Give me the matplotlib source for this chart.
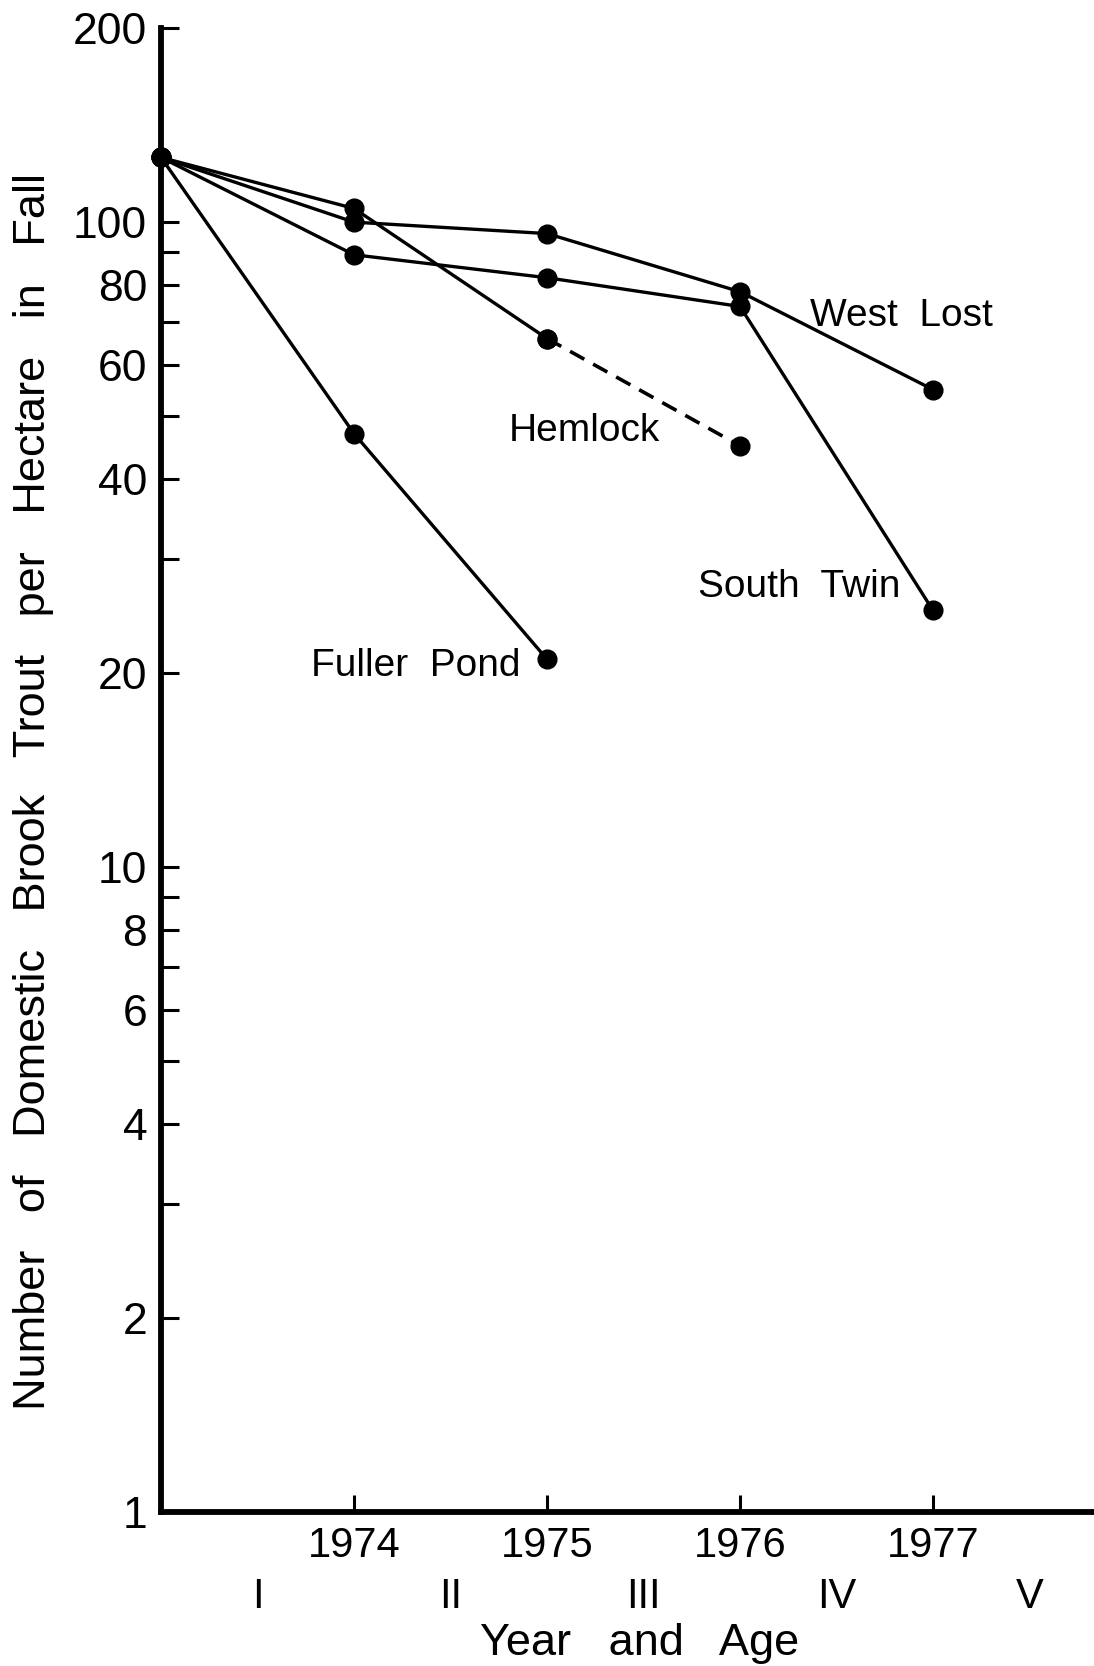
import matplotlib
matplotlib.use("Agg")
import matplotlib.pyplot as plt
from matplotlib.ticker import FixedLocator, FixedFormatter, NullFormatter

plt.rcParams['font.family'] = ['Liberation Sans', 'DejaVu Sans']

# data (fish per hectare each fall)
years = [1973, 1974, 1975, 1976, 1977]
west_lost = [126, 100, 96, 78, 55]
south_twin = [126, 89, 82, 74, 25]
hemlock = [126, 105, 66, 45]
fuller_pond = [126, 47, 21]

y_ticks = [1, 2, 3, 4, 5, 6, 7, 8, 9, 10, 20, 30, 40, 50, 60, 70, 80, 90, 100, 200]
y_labels = ['1', '2', '', '4', '', '6', '', '8', '', '10', '20', '', '40', '', '60', '', '80', '', '100', '200']
year_ticks = [1974, 1975, 1976, 1977]
age_pos = [1973.5, 1974.5, 1975.5, 1976.5, 1977.5]
age_labels = ['I', 'II', 'III', 'IV', 'V']

fig = plt.figure(figsize=(10.94, 16.66), dpi=100)
ax = fig.add_axes([0.1472, 0.0924, 0.8528, 0.8908])

line_kw = dict(color='black', lw=2.4, marker='o', ms=13.5, clip_on=False)
ax.plot(years, west_lost, **line_kw)
ax.plot(years, south_twin, **line_kw)
ax.plot(years[:3], hemlock[:3], **line_kw)
ax.plot(years[2:4], hemlock[2:], color='black', lw=2.6, marker='o', ms=13.5,
        linestyle=(0, (4.5, 2.8)), clip_on=False)
ax.plot(years[:3], fuller_pond, **line_kw)

ax.set_yscale('log')
ax.set_ylim(1, 200)
ax.set_xlim(1973, 1977.834)

ax.yaxis.set_major_locator(FixedLocator(y_ticks))
ax.yaxis.set_major_formatter(FixedFormatter(y_labels))
ax.yaxis.set_minor_formatter(NullFormatter())
ax.yaxis.set_minor_locator(FixedLocator([]))
ax.tick_params(axis='y', direction='in', length=13, width=2.2, labelsize=32, pad=10)

ax.xaxis.set_major_locator(FixedLocator(year_ticks))
ax.set_xticklabels([str(y) for y in year_ticks])
ax.xaxis.set_minor_locator(FixedLocator(age_pos))
ax.xaxis.set_minor_formatter(FixedFormatter(age_labels))
ax.tick_params(axis='x', which='major', direction='in', length=12, width=2.2,
               labelsize=30, pad=10)
ax.tick_params(axis='x', which='minor', length=0, labelsize=30, pad=47)

for s in ['top', 'right']:
    ax.spines[s].set_visible(False)
for s in ['left', 'bottom']:
    ax.spines[s].set_linewidth(4.2)

fs = 28
ax.text(1976.36, 71.5, 'West  Lost', fontsize=fs, va='center', ha='left')
ax.text(1974.80, 47.4, 'Hemlock', fontsize=fs, va='center', ha='left')
ax.text(1976.83, 27.2, 'South  Twin', fontsize=fs, va='center', ha='right')
ax.text(1974.86, 20.5, 'Fuller  Pond', fontsize=fs, va='center', ha='right')

fig.text(640 / 1094, 1 - 1643 / 1666, 'Year   and   Age', fontsize=32.5,
         ha='center', va='center')
fig.text(34 / 1094, 1 - 791 / 1666,
         'Number   of   Domestic   Brook   Trout   per   Hectare   in   Fall',
         fontsize=32.5, rotation=90, ha='center', va='center')

fig.savefig('out.png', dpi=100, facecolor='white')
